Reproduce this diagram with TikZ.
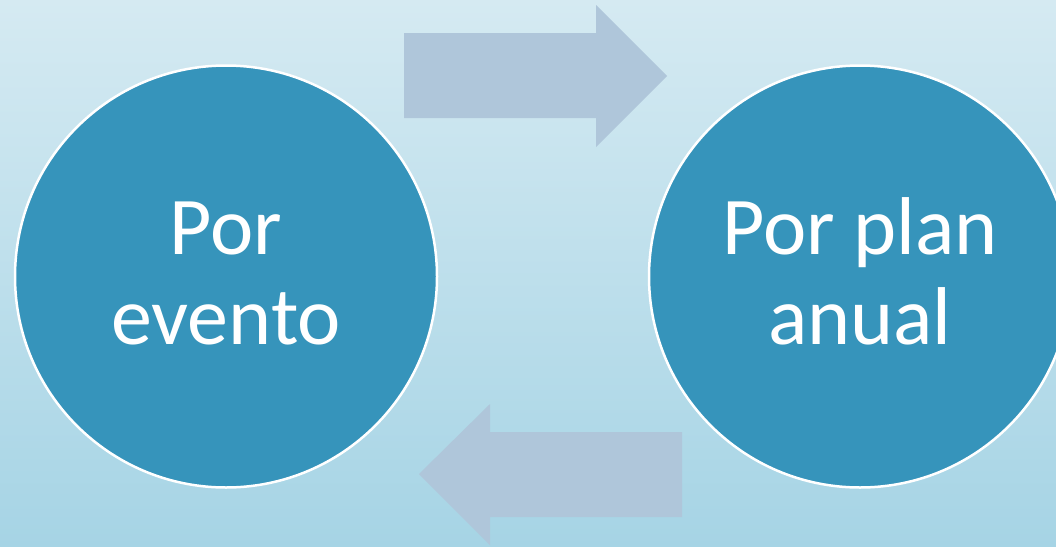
\documentclass[tikz,border=0pt]{standalone}
\usepackage{fontspec}
\setmainfont{Carlito}
\definecolor{bgtop}{HTML}{D5EAF2}
\definecolor{bgbot}{HTML}{A6D4E5}
\definecolor{circfill}{HTML}{3694BB}
\definecolor{arrowfill}{HTML}{AFC6DA}
\tikzset{
  bubble/.style={circle, fill=circfill, draw=white, line width=2.5pt, minimum size=422pt, inner sep=0pt},
  bubbletext/.style={text=white, align=center, inner sep=0pt, font=\fontsize{82}{90}\selectfont},
  bigarrow/.style={fill=arrowfill, draw=none}
}
\begin{document}
\begin{tikzpicture}[x=1pt,y=-1pt]
\useasboundingbox (0,0) rectangle (1056,546);
\clip (0,0) rectangle (1056,546);
\shade[top color=bgtop, bottom color=bgbot] (0,0) rectangle (1056,546);
% arrows
\fill[bigarrow] (404,33) -- (596,33) -- (596,5) -- (667,76) -- (596,147) -- (596,118) -- (404,118) -- cycle;
\fill[bigarrow] (682,432) -- (490,432) -- (490,404) -- (419,474) -- (490,545) -- (490,517) -- (682,517) -- cycle;
% circles
\node[bubble] (left) at (226,276.5) {};
\node[bubble] (right) at (860,276.5) {};
\node[bubbletext] (lefttext) at (226,273) {Por\\evento};
\node[bubbletext] (righttext) at (860,271) {Por plan\\anual};
\end{tikzpicture}
\end{document}
